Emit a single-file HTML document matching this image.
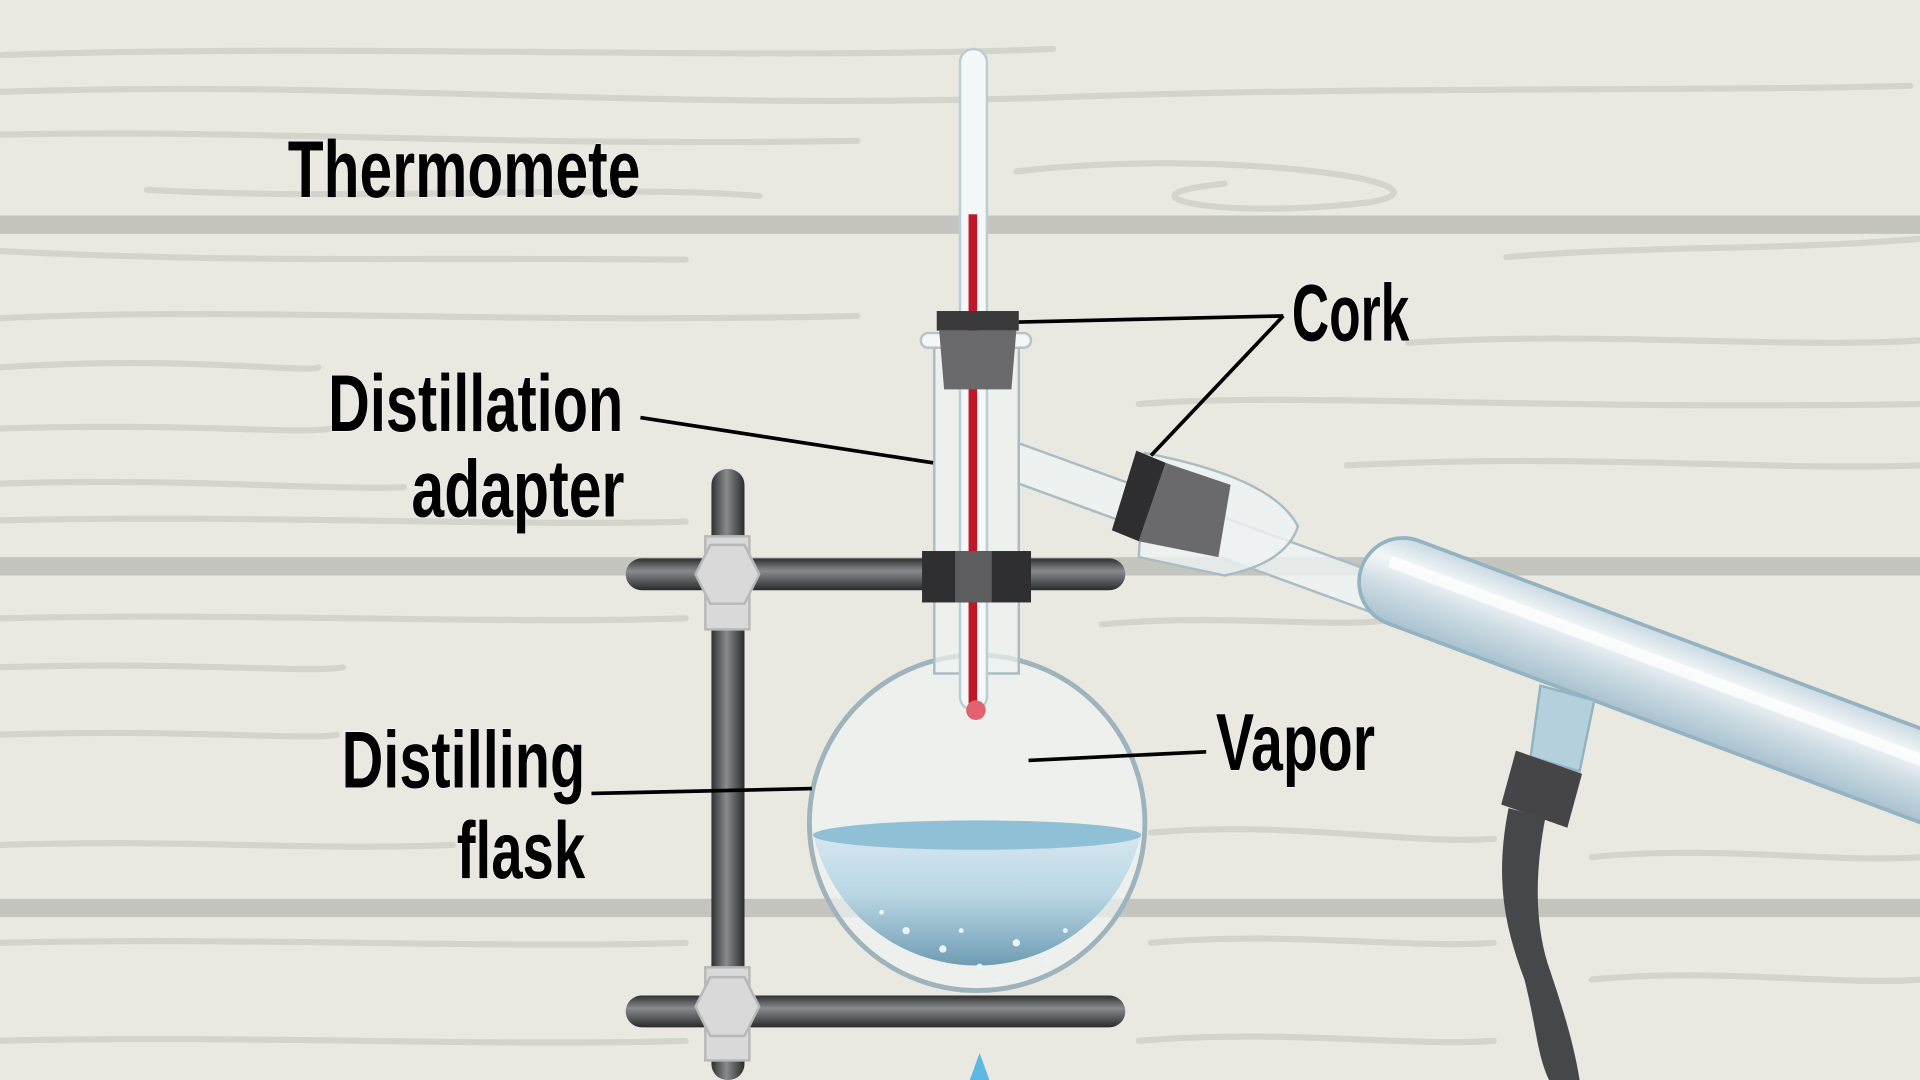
<!DOCTYPE html>
<html><head><meta charset="utf-8"><style>html,body{margin:0;padding:0;background:#e9e9e1;}svg{display:block}</style></head>
<body>
<svg width="1920" height="1080" viewBox="0 0 1568 882" preserveAspectRatio="none" xmlns="http://www.w3.org/2000/svg">
<defs>
<linearGradient id="rod" x1="0" y1="0" x2="0" y2="1"><stop offset="0" stop-color="#2f3032"/><stop offset="0.4" stop-color="#8a8b8e"/><stop offset="1" stop-color="#2a2b2d"/></linearGradient>
<linearGradient id="vrod" x1="0" y1="0" x2="1" y2="0"><stop offset="0" stop-color="#2f3032"/><stop offset="0.45" stop-color="#8a8b8e"/><stop offset="1" stop-color="#2a2b2d"/></linearGradient>
<linearGradient id="liq" x1="0" y1="0" x2="0" y2="1"><stop offset="0" stop-color="#dbeaf2"/><stop offset="0.5" stop-color="#b9d6e4"/><stop offset="1" stop-color="#6f9db4"/></linearGradient>
<linearGradient id="cond" x1="0" y1="0" x2="0" y2="1"><stop offset="0" stop-color="#c9d9e2"/><stop offset="0.3" stop-color="#f4f7f8"/><stop offset="0.6" stop-color="#cfdde5"/><stop offset="1" stop-color="#a9c2cf"/></linearGradient>
</defs>
<rect width="1568" height="882" fill="#e9e9e1"/>
<g fill="none" stroke="#d3d4cc" stroke-width="5" stroke-linecap="round">
<path d="M0 45 C300 35 600 50 860 40"/><path d="M0 75 C300 65 500 90 850 80 C1100 70 1400 75 1560 70"/>
<path d="M0 110 C200 105 400 120 700 115"/><path d="M120 155 C300 165 500 150 620 160"/>
<path d="M830 140 C1000 120 1200 150 1120 165 C1000 180 900 160 1000 150"/>
<path d="M0 205 C200 215 300 210 560 212"/><path d="M1230 210 C1350 200 1450 205 1568 195"/>
<path d="M0 260 C200 250 400 265 700 258"/><path d="M1150 280 C1300 270 1450 285 1568 278"/>
<path d="M0 300 C150 290 250 305 260 300"/><path d="M930 330 C1050 320 1250 335 1568 330"/>
<path d="M0 350 C150 345 250 355 270 350"/><path d="M0 395 C150 390 250 400 330 398"/>
<path d="M1100 380 C1300 370 1450 385 1568 380"/><path d="M0 425 C200 420 400 430 560 426"/>
<path d="M0 505 C200 500 400 510 560 505"/><path d="M900 510 C1000 500 1100 515 1140 505"/>
<path d="M0 545 C150 540 250 550 280 545"/><path d="M0 600 C150 595 250 605 275 600"/>
<path d="M0 690 C150 685 250 695 370 690"/><path d="M940 680 C1050 670 1150 690 1220 685"/>
<path d="M0 770 C200 765 400 775 560 770"/><path d="M940 770 C1050 760 1150 775 1220 770"/>
<path d="M1300 700 C1400 690 1500 705 1568 700"/><path d="M1300 800 C1400 790 1500 805 1568 800"/>
<path d="M0 850 C200 845 400 855 560 850"/><path d="M930 850 C1050 840 1150 855 1220 850"/>
</g>
<rect x="0" y="176" width="1568" height="15" fill="#c4c5bf"/>
<rect x="0" y="455" width="1568" height="15" fill="#c4c5bf"/>
<rect x="0" y="734" width="1568" height="15" fill="#c4c5bf"/>

<rect x="581" y="383" width="27" height="499" rx="13" fill="url(#vrod)"/>
<rect x="511" y="456" width="408" height="26" rx="13" fill="url(#rod)"/>
<rect x="511" y="813" width="408" height="26" rx="13" fill="url(#rod)"/>
<g fill="#d9d9d9" stroke="#b8b8b8" stroke-width="2">
<rect x="576" y="438" width="36" height="76"/><polygon points="568,469 580,445 608,445 620,469 608,493 580,493"/>
<rect x="576" y="790" width="36" height="76"/><polygon points="568,822 580,798 608,798 620,822 608,846 580,846"/>
</g>

<circle cx="798" cy="672" r="137" fill="#eef2f2" fill-opacity="0.7" stroke="#9fb3bc" stroke-width="4"/>
<path d="M664 680 Q798 665 932 680 A137 137 0 0 1 664 680 Z" fill="url(#liq)"/>
<ellipse cx="798" cy="682" rx="134" ry="12" fill="#8fc0d6"/>
<g fill="#eaf4f8"><circle cx="740" cy="760" r="3"/><circle cx="770" cy="775" r="3"/><circle cx="800" cy="790" r="3"/><circle cx="830" cy="770" r="3"/><circle cx="855" cy="785" r="3"/><circle cx="720" cy="745" r="2"/><circle cx="815" cy="800" r="3"/><circle cx="785" cy="760" r="2"/><circle cx="870" cy="760" r="2"/></g>
<rect x="763" y="280" width="69" height="270" fill="#eef2f2" fill-opacity="0.7" stroke="#a9bcc4" stroke-width="2"/>
<path d="M832 362 L1130 470 L1120 500 L832 395 Z" fill="#eef2f2" fill-opacity="0.8" stroke="#a9bcc4" stroke-width="2"/>
<rect x="752" y="272" width="90" height="12" rx="6" fill="#f5f7f7" stroke="#b5c2c7" stroke-width="2"/>
<rect x="784" y="40" width="22" height="540" rx="11" fill="#f4f8f8" stroke="#b9cdd5" stroke-width="2"/>
<rect x="791" y="175" width="7" height="405" fill="#c01828"/>
<circle cx="797" cy="580" r="8" fill="#e0636f"/>
<rect x="765" y="254" width="67" height="16" fill="#3a3a3c"/>
<path d="M767 270 L830 270 L826 318 L771 318 Z" fill="#6a6a6c"/>
<rect x="753" y="450" width="89" height="42" fill="#2f2f31"/>
<rect x="780" y="450" width="30" height="42" fill="#5d5d60"/>
<path d="M935 370 Q1040 390 1060 430 Q1050 460 1000 470 L930 455 Z" fill="#eef2f2" fill-opacity="0.8" stroke="#a9bcc4" stroke-width="2"/>
<polygon points="928,368 952,378 930,442 908,433" fill="#2e2e30"/>
<polygon points="952,378 1005,396 995,455 930,442" fill="#6a6a6c"/>
<g transform="rotate(20.5 1145 475)">
<rect x="1110" y="439" width="540" height="72" rx="36" fill="url(#cond)" stroke="#93b2c2" stroke-width="3"/>
<rect x="1130" y="458" width="510" height="10" fill="#ffffff" opacity="0.7"/>
</g>
<path d="M1258 560 L1302 572 L1290 630 L1250 618 Z" fill="#b3d0dc" stroke="#93b2c2" stroke-width="2"/>
<polygon points="1238,613 1292,632 1280,676 1226,657" fill="#454547"/>
<path d="M1232 660 C1220 720 1230 760 1245 800 C1255 840 1255 860 1265 882 L1290 882 C1285 850 1275 820 1265 790 C1255 760 1252 720 1262 668 Z" fill="#46474a"/>
<polygon points="800,860 808,882 792,882" fill="#5db8e2"/>

<g stroke="#000" stroke-width="3" fill="none">
<line x1="832" y1="263" x2="1048" y2="258"/>
<line x1="940" y1="372" x2="1048" y2="258"/>
<line x1="523" y1="341" x2="762" y2="378"/>
<line x1="483" y1="648" x2="663" y2="644"/>
<line x1="840" y1="621" x2="985" y2="614"/>
</g>
<g font-family="'Liberation Sans Narrow','Liberation Sans',sans-serif" font-size="66" font-weight="bold" fill="#000" stroke="#fff" stroke-width="0.8" paint-order="stroke">
<text x="235" y="161" textLength="288" lengthAdjust="spacingAndGlyphs">Thermomete</text>
<text x="1055" y="278" textLength="96" lengthAdjust="spacingAndGlyphs">Cork</text>
<text x="268" y="352" textLength="241" lengthAdjust="spacingAndGlyphs">Distillation</text>
<text x="336" y="422" textLength="174" lengthAdjust="spacingAndGlyphs">adapter</text>
<text x="279" y="643" textLength="199" lengthAdjust="spacingAndGlyphs">Distilling</text>
<text x="373" y="717" textLength="105" lengthAdjust="spacingAndGlyphs">flask</text>
<text x="993" y="629" textLength="130" lengthAdjust="spacingAndGlyphs">Vapor</text>
</g>
</svg>
</body></html>
